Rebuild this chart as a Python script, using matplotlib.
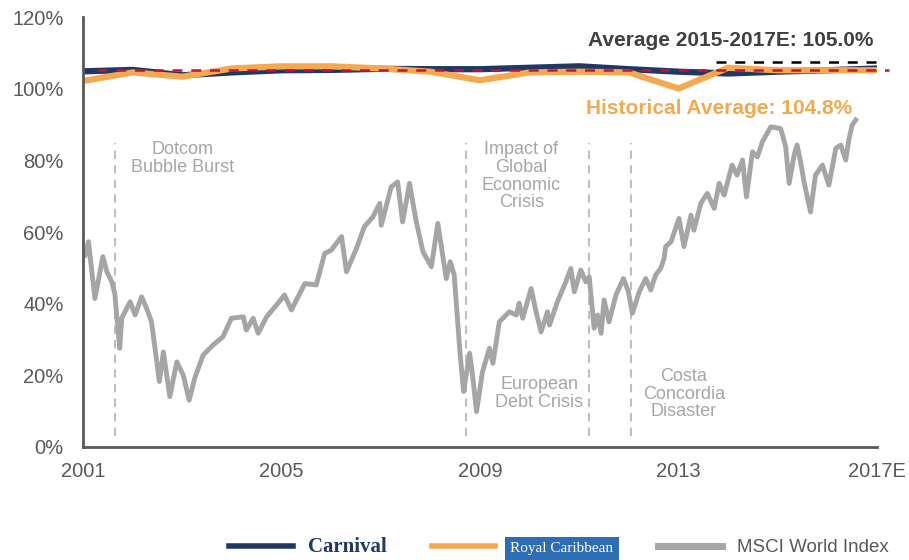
import matplotlib
matplotlib.use("Agg")
import matplotlib.pyplot as plt
from matplotlib.lines import Line2D

plt.rcParams['font.family'] = ['Liberation Sans', 'DejaVu Sans']

# Occupancy by year (%)
years = list(range(2001, 2018))
carnival = [104.9, 105.3, 103.8, 104.6, 105.2, 105.3, 105.6, 105.5, 105.5,
            105.9, 106.3, 105.5, 104.8, 104.3, 104.8, 105.2, 105.7]
royal = [102.2, 104.6, 103.4, 105.7, 106.3, 106.3, 105.7, 104.8, 102.4,
         104.6, 104.8, 104.6, 100.1, 105.9, 105.2, 105.2, 105.2]

# MSCI World Index (rebased)
msci_t = [2001.04, 2001.11, 2001.24, 2001.40, 2001.48, 2001.58, 2001.64, 2001.74, 2001.78,
          2001.95, 2002.05, 2002.18, 2002.28, 2002.38, 2002.54, 2002.62, 2002.75, 2002.89,
          2003.02, 2003.14, 2003.25, 2003.42, 2003.62, 2003.82, 2003.99, 2004.23, 2004.29,
          2004.43, 2004.53, 2004.70, 2004.93, 2005.06, 2005.20, 2005.47, 2005.70, 2005.87,
          2006.00, 2006.21, 2006.31, 2006.51, 2006.67, 2006.84, 2006.98, 2007.01, 2007.21,
          2007.34, 2007.44, 2007.58, 2007.71, 2007.85, 2008.02, 2008.15, 2008.32, 2008.40,
          2008.48, 2008.59, 2008.62, 2008.67, 2008.79, 2008.85, 2008.93, 2009.05, 2009.19,
          2009.26, 2009.39, 2009.59, 2009.73, 2009.79, 2009.86, 2010.03, 2010.13, 2010.23,
          2010.36, 2010.40, 2010.56, 2010.73, 2010.83, 2010.90, 2011.03, 2011.13, 2011.20,
          2011.30, 2011.37, 2011.44, 2011.50, 2011.60, 2011.74, 2011.89, 2011.99, 2012.07,
          2012.21, 2012.34, 2012.44, 2012.54, 2012.64, 2012.71, 2012.74, 2012.85, 2013.01,
          2013.11, 2013.25, 2013.31, 2013.45, 2013.58, 2013.72, 2013.82, 2013.92, 2014.08,
          2014.18, 2014.29, 2014.37, 2014.49, 2014.59, 2014.69, 2014.86, 2015.06, 2015.16,
          2015.23, 2015.33, 2015.39, 2015.46, 2015.53, 2015.66, 2015.76, 2015.90, 2016.03,
          2016.17, 2016.27, 2016.37, 2016.43, 2016.50, 2016.57]
msci_v = [53.5, 57.3, 41.4, 53.1, 48.9, 46.1, 42.8, 27.5, 35.9,
          40.5, 36.8, 41.9, 38.7, 34.9, 18.2, 26.5, 14.0, 23.7,
          20.0, 13.0, 19.1, 25.6, 28.4, 30.7, 35.9, 36.3, 32.6,
          35.9, 31.7, 36.3, 40.1, 42.4, 38.2, 45.6, 45.2, 54.0,
          54.9, 58.7, 48.9, 55.4, 61.5, 64.2, 68.0, 61.9, 72.6,
          74.0, 62.8, 73.6, 63.3, 54.5, 50.3, 62.4, 47.0, 51.7,
          48.0, 27.5, 22.8, 15.4, 26.1, 20.0, 9.8, 20.9, 27.5,
          23.3, 34.9, 37.7, 36.8, 40.1, 35.9, 44.2, 37.7, 32.1,
          37.7, 34.0, 40.5, 46.1, 49.8, 43.3, 49.4, 46.1, 47.5,
          33.1, 36.8, 31.7, 41.0, 34.9, 42.4, 47.0, 43.3, 37.3,
          43.3, 47.0, 43.8, 48.0, 49.8, 52.6, 55.9, 57.3, 63.8,
          55.9, 64.7, 60.5, 68.0, 70.8, 66.6, 73.6, 70.3, 78.7,
          75.9, 80.1, 69.8, 82.4, 81.0, 85.2, 89.4, 88.9, 83.8,
          73.6, 81.5, 84.3, 79.6, 74.0, 65.6, 75.9, 78.7, 73.1,
          83.4, 84.3, 80.1, 85.7, 89.9, 91.3]

# events
event_x = [2001.64, 2008.71, 2011.20, 2012.05]
event_labels = ['Dotcom\nBubble Burst', 'Impact of\nGlobal\nEconomic\nCrisis',
                'European\nDebt Crisis', 'Costa\nConcordia\nDisaster']
label_pos = [(2003.01, 80.5), (2009.83, 75.6), (2010.2, 14.9), (2013.11, 14.7)]

hist_avg_line = 105.2
recent_avg_line = 107.4

navy = '#1F3864'
orange = '#F4A950'
grey = '#A5A5A5'
axis_grey = '#595959'

fig = plt.figure(figsize=(9.09, 5.6), dpi=100)
ax = fig.add_axes([83/909, 1-446.7/560, (877-83)/909, (446.7-17.3)/560])

for x in event_x:
    ax.plot([x, x], [3, 85], color='#BFBFBF', linewidth=1.5, dashes=(4, 3))
for txt, (x, y) in zip(event_labels, label_pos):
    ax.text(x, y, txt, color='#A6A6A6', fontsize=13, ha='center', va='center', linespacing=1.05)

ax.plot(msci_t, msci_v, color=grey, linewidth=3.5, solid_joinstyle='round')
ax.plot(years, carnival, color=navy, linewidth=4.5)
ax.plot(years, royal, color=orange, linewidth=4.5)
ax.plot([2001.28, 2017.24], [hist_avg_line]*2, color='#C0143C', linewidth=1.8,
        dashes=(4, 3.5), clip_on=False)
ax.plot([2013.76, 2017.02], [recent_avg_line]*2, color='black', linewidth=1.8,
        dashes=(4, 3.5), clip_on=False)

ax.text(2014.06, 113.6, 'Average 2015-2017E: 105.0%', color='#404040', fontsize=15,
        fontweight='bold', ha='center', va='center')
ax.text(2013.81, 94.6, 'Historical Average: 104.8%', color=orange, fontsize=15,
        fontweight='bold', ha='center', va='center')

ax.set_xlim(2001, 2017)
ax.set_ylim(0, 120)
ax.set_xticks([2001, 2005, 2009, 2013, 2017])
ax.set_xticklabels(['2001', '2005', '2009', '2013', '2017E'])
ax.set_yticks(range(0, 121, 20))
ax.set_yticklabels([f'{v}%' for v in range(0, 121, 20)])
ax.tick_params(axis='both', length=0, labelsize=14.5, colors=axis_grey)
ax.tick_params(axis='y', pad=14)
ax.tick_params(axis='x', pad=11)
for s in ['top', 'right']:
    ax.spines[s].set_visible(False)
for s in ['left', 'bottom']:
    ax.spines[s].set_color(axis_grey)
    ax.spines[s].set_linewidth(2)

handles = [Line2D([], [], color=navy, linewidth=4),
           Line2D([], [], color=orange, linewidth=4),
           Line2D([], [], color=grey, linewidth=5)]
leg = fig.legend(handles, ['Carnival', 'Royal Caribbean', 'MSCI World Index'],
                 loc='lower center', bbox_to_anchor=(0.615, -0.025), ncol=3, frameon=False,
                 fontsize=13.5, handlelength=3.4, columnspacing=2.4)
t = leg.get_texts()
t[0].set_color(navy)
t[0].set_fontfamily('Liberation Serif')
t[0].set_fontweight('bold')
t[0].set_fontsize(15)
t[1].set_color('white')
t[1].set_fontfamily('Liberation Serif')
t[1].set_fontsize(11)
t[1].set_bbox(dict(facecolor='#2E6DB4', edgecolor='none', pad=4))
t[2].set_color(axis_grey)

fig.savefig('out.png', dpi=100)
